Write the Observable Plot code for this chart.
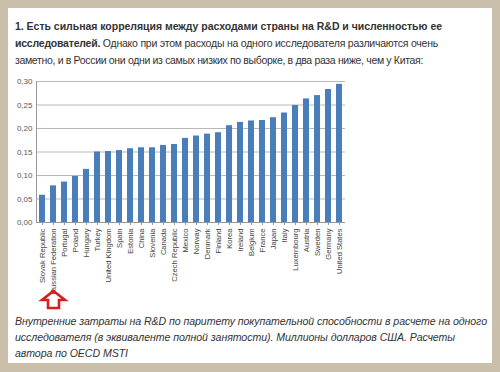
<!DOCTYPE html>
<html><head><meta charset="utf-8">
<script src="https://cdn.jsdelivr.net/npm/d3@7"></script>
<script src="https://cdn.jsdelivr.net/npm/@observablehq/plot@0.6"></script>
<style>
html,body{margin:0;padding:0;}
body{width:500px;height:372px;background:#c9bfab;position:relative;overflow:hidden;font-family:"Liberation Sans",Arial,sans-serif;}
#panel{position:absolute;left:8px;top:8px;width:484px;height:355px;background:#fff;}
.t{position:absolute;left:15px;white-space:nowrap;font-size:10.5px;color:#333;line-height:17px;}
.c{position:absolute;left:15px;white-space:nowrap;font-size:10.6px;color:#333;font-style:italic;line-height:16px;}
#chart{position:absolute;left:0;top:70px;}
</style></head>
<body>
<div id="panel"></div>
<div class="t" data-w="427" style="top:18px"><b>1. Есть сильная корреляция между расходами страны на R&amp;D и численностью ее</b></div>
<div class="t" data-w="423" style="top:35px"><b>исследователей.</b> Однако при этом расходы на одного исследователя различаются очень</div>
<div class="t" data-w="408" style="top:52px">заметно, и в России они одни из самых низких по выборке, в два раза ниже, чем у Китая:</div>
<div id="chart"></div>
<div class="c" data-w="472" style="top:313px">Внутренние затраты на R&amp;D по паритету покупательной способности в расчете на одного</div>
<div class="c" data-w="440" style="top:329px">исследователя (в эквиваленте полной занятости). Миллионы долларов США. Расчеты</div>
<div class="c" data-w="113" style="top:345px">автора по OECD MSTI</div>
<script>
const countries = ["Slovak Republic","Russian Federation","Portugal","Poland","Hungary","Turkey","United Kingdom","Spain","Estonia","China","Slovenia","Canada","Czech Republic","Mexico","Norway","Denmark","Finland","Korea","Ireland","Belgium","France","Japan","Italy","Luxembourg","Austria","Sweden","Germany","United States"];
const values = [0.058,0.078,0.086,0.098,0.113,0.150,0.151,0.153,0.157,0.159,0.159,0.164,0.166,0.179,0.184,0.188,0.191,0.206,0.213,0.216,0.217,0.223,0.233,0.249,0.263,0.270,0.283,0.294];
const yTicks = [0,0.05,0.10,0.15,0.20,0.25,0.30];
const highlighted = ["Russian Federation"];

const data = countries.map((c,i)=>({country:c, value:values[i]}));

// fit each text line to the width it takes in the reference
document.querySelectorAll("[data-w]").forEach(el => {
  const target = +el.dataset.w;
  const n = el.textContent.length;
  const w = el.getBoundingClientRect().width;
  el.style.letterSpacing = ((target - w) / n).toFixed(3) + "px";
});

const arrowSymbol = {
  draw(ctx){
    ctx.moveTo(0,-8.5);
    ctx.lineTo(11.5,0.5);
    ctx.lineTo(5.5,0.5);
    ctx.lineTo(5.5,8.5);
    ctx.lineTo(-5.5,8.5);
    ctx.lineTo(-5.5,0.5);
    ctx.lineTo(-11.5,0.5);
    ctx.closePath();
  }
};

const chart = Plot.plot({
  width: 360,
  height: 242,
  marginLeft: 36,
  marginRight: 15,
  marginTop: 11,
  marginBottom: 90,
  style: {fontFamily: "'Liberation Sans', Arial, sans-serif", background: "transparent", color: "#444"},
  x: {domain: countries, padding: 0.5, paddingOuter: 0.25, label: null},
  y: {domain: [0,0.30], ticks: yTicks, label: null},
  marks: [
    Plot.gridY(yTicks, {stroke: "#b8b8b8", strokeOpacity: 1, strokeWidth: 1}),
    Plot.frame({anchor: "left", stroke: "#999"}),
    Plot.barY(data, {x: "country", y: "value", fill: "#4a7ebb"}),
    Plot.ruleY([0], {stroke: "#999"}),
    Plot.axisY(yTicks, {tickFormat: d => d.toFixed(2).replace(".", ","), tickSize: 0, tickPadding: 4, fontSize: 8, fill: "#555"}),
    Plot.axisX({tickRotate: -90, tickSize: 3, tickPadding: 3, fontSize: 7.6, fill: "#444", stroke: "#999"}),
    Plot.dot(highlighted, {x: d => d, frameAnchor: "bottom", dy: 77, symbol: arrowSymbol, r: 5, stroke: "#d81e1e", strokeWidth: 2.6, fill: "none"})
  ]
});
document.getElementById("chart").appendChild(chart);
</script>
</body></html>
